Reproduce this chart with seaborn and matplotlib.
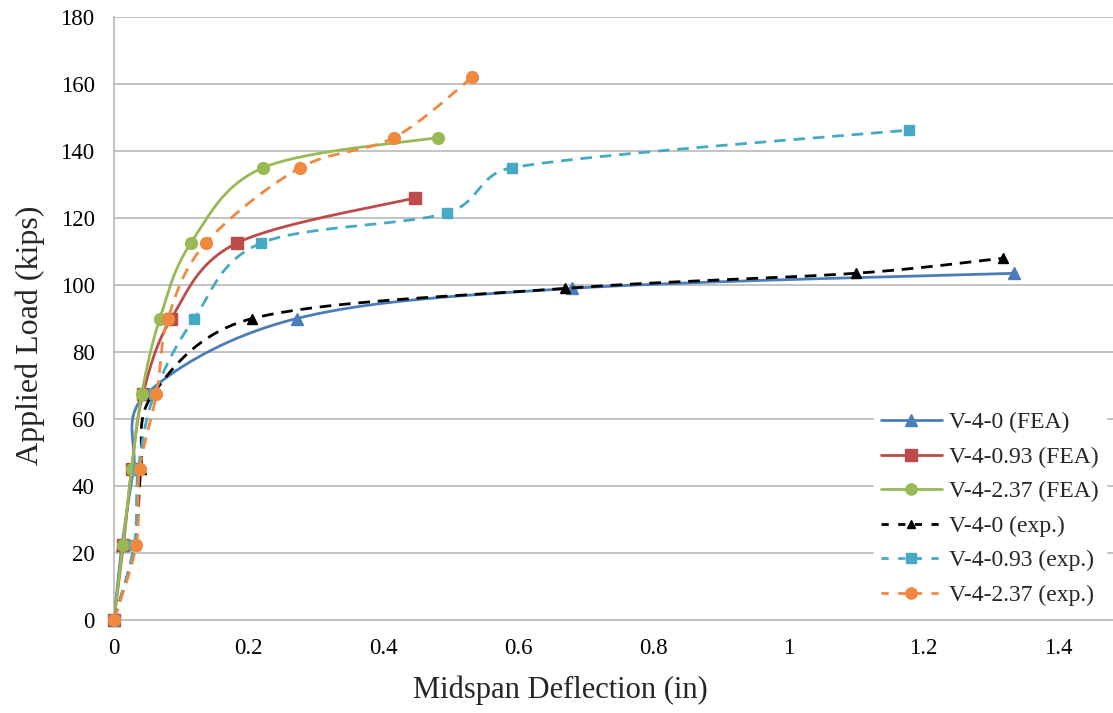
import numpy as np
import pandas as pd
import matplotlib
matplotlib.use("Agg")
import matplotlib.pyplot as plt
from matplotlib.lines import Line2D
import seaborn as sns

# ---------------- data ----------------
defl_fea_0 = [0, 0.012, 0.029, 0.048, 0.271, 0.679, 1.335]
load_fea_0 = [0, 22.5, 45, 67.5, 90, 99, 103.5]

defl_fea_093 = [0, 0.014, 0.026, 0.043, 0.085, 0.182, 0.446]
load_fea_093 = [0, 22.5, 45, 67.5, 90, 112.5, 126]

defl_fea_237 = [0, 0.013, 0.026, 0.041, 0.068, 0.114, 0.221, 0.480]
load_fea_237 = [0, 22.5, 45, 67.5, 90, 112.5, 135, 144]

defl_exp_0 = [0, 0.031, 0.040, 0.058, 0.205, 0.669, 1.100, 1.318]
load_exp_0 = [0, 22.5, 45, 67.5, 90, 99, 103.5, 108]

defl_exp_093 = [0, 0.030, 0.036, 0.060, 0.119, 0.218, 0.494, 0.590, 1.179]
load_exp_093 = [0, 22.5, 45, 67.5, 90, 112.5, 121.5, 135, 146.25]

defl_exp_237 = [0, 0.033, 0.038, 0.063, 0.080, 0.136, 0.276, 0.415, 0.531]
load_exp_237 = [0, 22.5, 45, 67.5, 90, 112.5, 135, 144, 162]

series_names = ["V-4-0 (FEA)", "V-4-0.93 (FEA)", "V-4-2.37 (FEA)",
                "V-4-0 (exp.)", "V-4-0.93 (exp.)", "V-4-2.37 (exp.)"]
series_x = [defl_fea_0, defl_fea_093, defl_fea_237, defl_exp_0, defl_exp_093, defl_exp_237]
series_y = [load_fea_0, load_fea_093, load_fea_237, load_exp_0, load_exp_093, load_exp_237]

x_ticks = [0, 0.2, 0.4, 0.6, 0.8, 1.0, 1.2, 1.4]
x_tick_labels = ["0", "0.2", "0.4", "0.6", "0.8", "1", "1.2", "1.4"]
y_ticks = [0, 20, 40, 60, 80, 100, 120, 140, 160, 180]

# ---------------- styles ----------------
colors = ["#4A7EBB", "#BE4B48", "#98B954", "#000000", "#46AAC5", "#F0883E"]
markers = ["^", "s", "o", "^", "s", "o"]
msizes = [8.5, 8.5, 8.5, 6.5, 7.5, 8.5]
dashed = [False, False, False, True, True, True]

# scale factors to make smoothing isotropic in screen space
SX, SY = 674.3, 3.35


def excel_smooth(xs, ys, n=40):
    """Catmull-Rom / Bezier smoothing similar to Excel 'smoothed line'."""
    P = np.column_stack([np.asarray(xs) * SX, np.asarray(ys) * SY])
    m = len(P)
    out = [P[0]]
    for i in range(m - 1):
        p0 = P[i - 1] if i > 0 else P[i]
        p1 = P[i]
        p2 = P[i + 1]
        p3 = P[i + 2] if i + 2 < m else P[i + 1]
        seg = np.linalg.norm(p2 - p1)
        h1 = (p2 - p0) / 6.0
        h2 = (p3 - p1) / 6.0
        lim = 0.45 * seg
        if np.linalg.norm(h1) > lim:
            h1 = h1 / np.linalg.norm(h1) * lim
        if np.linalg.norm(h2) > lim:
            h2 = h2 / np.linalg.norm(h2) * lim
        c1 = p1 + h1
        c2 = p2 - h2
        t = np.linspace(0, 1, n)[1:, None]
        pts = ((1 - t) ** 3) * p1 + 3 * ((1 - t) ** 2) * t * c1 + 3 * (1 - t) * t ** 2 * c2 + t ** 3 * p2
        out.extend(pts)
    out = np.array(out)
    return out[:, 0] / SX, out[:, 1] / SY


sns.set_style("white")
plt.rcParams["font.family"] = ["Liberation Serif", "DejaVu Serif"]

W, H = 1113, 713
fig = plt.figure(figsize=(W / 100, H / 100), dpi=100)
left, right, bottom, top = 114, 1113, 620, 17
ax = fig.add_axes([left / W, (H - bottom) / H, (right - left) / W, (bottom - top) / H])

handles = []
for k, name in enumerate(series_names):
    sx, sy = excel_smooth(series_x[k], series_y[k])
    curve = pd.DataFrame({"x": sx, "y": sy})
    pts = pd.DataFrame({"x": series_x[k], "y": series_y[k]})
    ls = (0, (4.2, 2.8)) if dashed[k] else "-"
    sns.lineplot(data=curve, x="x", y="y", sort=False, ax=ax, color=colors[k],
                 linewidth=2.0, linestyle=ls, estimator=None, zorder=3 + 2 * k)
    ax.plot(pts["x"], pts["y"], linestyle="none", marker=markers[k], markersize=msizes[k],
            color=colors[k], markeredgecolor=colors[k], zorder=4 + 2 * k, clip_on=False)
    handles.append(Line2D([0], [0], color=colors[k], linewidth=2.0,
                          linestyle=(0, (2.6, 3.4)) if dashed[k] else "-",
                          marker=markers[k], markersize=msizes[k] * 0.95,
                          markeredgecolor=colors[k]))

ax.set_xlim(0, (right - left) / SX)
ax.set_ylim(0, 180)
ax.set_xticks(x_ticks)
ax.set_xticklabels(x_tick_labels)
ax.set_yticks(y_ticks)
ax.tick_params(axis="both", length=0, labelsize=16.5, colors="black")
ax.tick_params(axis="x", pad=13)
ax.tick_params(axis="y", pad=14)

ax.grid(axis="y", color="#BEBEBE", linewidth=1.3)
ax.grid(axis="x", visible=False)
for s in ["top", "right"]:
    ax.spines[s].set_visible(False)
for s in ["left", "bottom"]:
    ax.spines[s].set_color("#BEBEBE")
    ax.spines[s].set_linewidth(1.3)

ax.set_xlabel("Midspan Deflection (in)", fontsize=22)
ax.set_ylabel("Applied Load (kips)", fontsize=23)
ax.xaxis.set_label_coords((560 - left) / (right - left), -(690 - bottom) / (bottom - top), transform=ax.transAxes)
ax.xaxis.label.set_va("center")
ax.yaxis.set_label_coords(-(114 - 30) / (right - left), (bottom - 335) / (bottom - top), transform=ax.transAxes)
ax.yaxis.label.set_va("center")

leg = ax.legend(handles, series_names, loc="lower right", bbox_to_anchor=(1.0, 0.0),
                bbox_transform=ax.transAxes, frameon=True, fontsize=17,
                handlelength=2.6, handletextpad=0.3, labelspacing=0.55,
                borderaxespad=0.3, borderpad=0.3)
leg.get_frame().set_facecolor("white")
leg.get_frame().set_edgecolor("white")
leg.get_frame().set_alpha(1.0)
leg.set_zorder(30)

fig.savefig("out.png", dpi=100)
